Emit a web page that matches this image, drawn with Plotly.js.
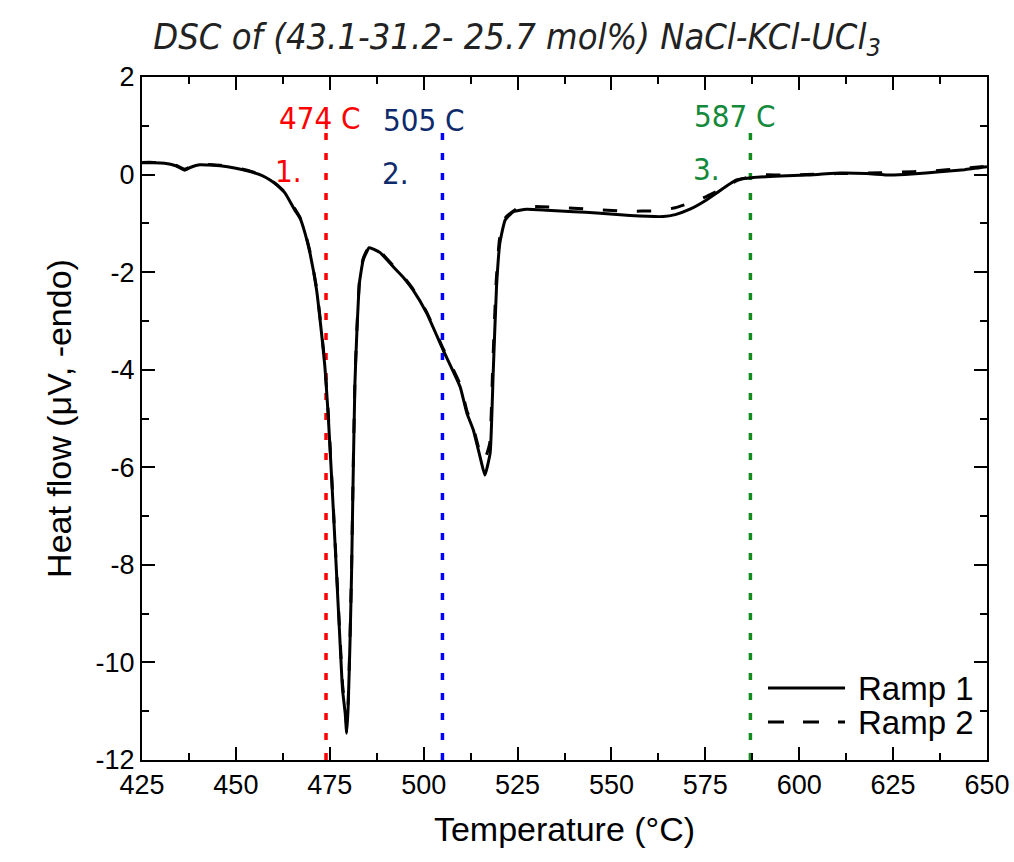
<!DOCTYPE html>
<html>
<head>
<meta charset="utf-8">
<script src="https://cdn.plot.ly/plotly-3.0.1.min.js"></script>
<style>html,body{margin:0;padding:0;background:#fff;}#chart{width:1014px;height:862px;}</style>
</head>
<body>
<div id="chart"></div>
<script>
// Ramp 1 (solid)
const ramp1T = [425, 428, 431, 434, 436.4, 438, 440.4, 445.8, 450, 453.8, 457, 459.1, 461, 463.1, 465.7, 467.1, 468.4, 469.7, 471.5, 472.8, 473.7, 474.6, 475.9, 476.8, 477.7, 478.4, 479.1, 479.5, 479.9, 480.4, 480.8, 481.2, 481.7, 482.2, 482.9, 483.9, 485.5, 488.4, 491.9, 494.5, 497.2, 500.8, 505.2, 509.7, 511.5, 513.2, 515, 516.3, 517.7, 518.5, 519.4, 520.3, 521.7, 523.9, 527.4, 532.8, 540, 546.1, 555, 563.8, 567, 570.9, 575.3, 578, 580, 583.3, 587.8, 595, 602, 610.9, 618, 624.2, 630, 637.5, 644, 650];
const ramp1HF = [0.24, 0.24, 0.23, 0.18, 0.09, 0.15, 0.2, 0.18, 0.13, 0.06, -0.02, -0.11, -0.22, -0.38, -0.73, -0.9, -1.2, -1.6, -2.37, -3.25, -3.94, -4.96, -6.81, -8.17, -9.54, -10.56, -11.04, -11.45, -10.9, -9.54, -8.17, -6.3, -4.27, -3.25, -2.22, -1.75, -1.5, -1.6, -1.89, -2.1, -2.37, -2.84, -3.6, -4.35, -4.89, -5.23, -5.78, -6.16, -5.71, -4.1, -2.3, -1.4, -0.93, -0.76, -0.71, -0.73, -0.76, -0.79, -0.84, -0.86, -0.82, -0.71, -0.52, -0.38, -0.27, -0.11, -0.06, -0.03, -0.01, 0.03, 0.02, -0.01, 0.01, 0.06, 0.1, 0.16];
// Ramp 2 (dashed)
const ramp2T = [425, 428, 431, 434, 436.4, 438, 440.4, 445.8, 450, 453.8, 457, 459.1, 461, 463.1, 465.7, 467.1, 468.4, 469.7, 471.5, 472.8, 473.7, 474.6, 475.9, 476.8, 477.7, 478.4, 479.1, 479.5, 479.9, 480.4, 480.8, 481.2, 481.7, 482.2, 482.9, 483.9, 485.5, 488.4, 491.9, 494.5, 497.2, 500.8, 505.2, 509.7, 511.5, 513.2, 515, 516.2, 517.6, 518.4, 519.3, 520.2, 521.6, 525.6, 535.4, 544.3, 553.6, 562.5, 567, 571.4, 575.5, 579.8, 583.5, 589.1, 598, 610, 618, 626, 634.8, 643.7, 650];
const ramp2HF = [0.25, 0.25, 0.23, 0.19, 0.11, 0.16, 0.21, 0.19, 0.14, 0.07, -0.01, -0.1, -0.21, -0.37, -0.7, -0.88, -1.18, -1.57, -2.33, -3.2, -3.9, -4.9, -6.75, -8.1, -9.45, -10.45, -10.95, -11.3, -10.8, -9.45, -8.1, -6.2, -4.2, -3.2, -2.18, -1.72, -1.48, -1.58, -1.87, -2.08, -2.35, -2.82, -3.57, -4.3, -4.84, -5.18, -5.7, -5.85, -5.5, -3.9, -2.2, -1.32, -0.9, -0.66, -0.67, -0.71, -0.75, -0.74, -0.68, -0.57, -0.44, -0.28, -0.12, -0.01, -0.01, 0.02, 0.03, 0.05, 0.07, 0.13, 0.17];
// Transition temperatures (vertical dotted markers)
const transT = [474, 505, 587];
const transLabels = ['474 C', '505 C', '587 C'];
const transNums = ['1.', '2.', '3.'];
const markerSpan = [-12, 1.0];
// Series names (legend)
const seriesNames = ['Ramp 1', 'Ramp 2'];
// tick values
const xTicks = [425, 450, 475, 500, 525, 550, 575, 600, 625, 650];
const yTicks = [2, 0, -2, -4, -6, -8, -10, -12];

const lineColors = ['#ff0000', '#0000ff', '#128c1e'];
const textColors = ['#ff0000', '#0d2a6b', '#13893b'];
const labelPos = [[472.4, 1.16], [500.1, 1.12], [582.9, 1.2]];
const numPos = [[463.9, 0.07], [492.6, 0.03], [575.2, 0.11]];

const narrow = 'Liberation Sans Narrow, DejaVu Sans Condensed, Roboto, sans-serif';
const sans = 'Arial, Liberation Sans, sans-serif';
const seriesDash = ['solid', '16px,19px'];

const traces = [];
transT.forEach((t, i) => {
  traces.push({
    x: [t, t], y: markerSpan, mode: 'lines', showlegend: false, hoverinfo: 'skip',
    line: {color: lineColors[i], width: 3.5, dash: '7px,13px'}
  });
});
traces.push({x: ramp1T, y: ramp1HF, name: seriesNames[0], mode: 'lines', showlegend: false,
  line: {color: '#000', width: 3, dash: seriesDash[0], shape: 'spline', smoothing: 0.4}});
traces.push({x: ramp2T, y: ramp2HF, name: seriesNames[1], mode: 'lines', showlegend: false,
  line: {color: '#000', width: 3, dash: '14px,20px', shape: 'spline', smoothing: 0.4}});

const annotations = [];
transT.forEach((t, i) => {
  annotations.push({x: labelPos[i][0], y: labelPos[i][1], xref: 'x', yref: 'y', text: transLabels[i], showarrow: false,
    font: {family: narrow, size: 31, color: textColors[i]}, xanchor: 'center', yanchor: 'middle'});
  annotations.push({x: numPos[i][0], y: numPos[i][1], xref: 'x', yref: 'y', text: transNums[i], showarrow: false,
    font: {family: narrow, size: 31, color: textColors[i]}, xanchor: 'center', yanchor: 'middle'});
});

// Legend (drawn inside plot, bottom right)
const legendRowsY = [0.1054, 0.0556];
const shapes = [];
seriesNames.forEach((nm, i) => {
  shapes.push({type: 'line', xref: 'paper', yref: 'paper', x0: 0.7408, x1: 0.832, y0: legendRowsY[i], y1: legendRowsY[i],
    line: {color: '#000', width: 3, dash: seriesDash[i]}});
  annotations.push({xref: 'paper', yref: 'paper', x: 0.845, y: legendRowsY[i], text: nm, showarrow: false,
    xanchor: 'left', yanchor: 'middle', font: {family: sans, size: 33, color: '#000'}});
});

const axisCommon = {
  showgrid: false, zeroline: false, showline: true, linecolor: '#000', linewidth: 2,
  mirror: 'ticks', ticks: 'inside', ticklen: 13, tickwidth: 2, tickcolor: '#000',
  tickfont: {family: sans, size: 27, color: '#000'}
};

const layout = {
  width: 1014, height: 862,
  paper_bgcolor: '#fff', plot_bgcolor: '#fff',
  font: {family: sans},
  margin: {l: 142, r: 27, t: 77, b: 102},
  title: {text: 'DSC of (43.1-31.2- 25.7 mol%) NaCl-KCl-UCl<sub>3</sub>', xref: 'container', yref: 'container',
    x: 0.51, xanchor: 'center', y: 0.958, yanchor: 'middle',
    font: {family: narrow, size: 36, style: 'italic', color: '#222'}},
  xaxis: Object.assign({}, axisCommon, {
    range: [425, 650], tickvals: xTicks, ticktext: xTicks.map(String),
    minor: {dtick: 12.5, tick0: 425, ticks: 'inside', ticklen: 7, tickwidth: 2, tickcolor: '#000'},
    title: {text: 'Temperature (°C)', font: {family: sans, size: 34, color: '#000'}, standoff: 18}
  }),
  yaxis: Object.assign({}, axisCommon, {
    range: [-12, 2], tickvals: yTicks, ticktext: yTicks.map(String),
    minor: {dtick: 1, tick0: 0, ticks: 'inside', ticklen: 7, tickwidth: 2, tickcolor: '#000'},
    title: {text: 'Heat flow (μV, -endo)', font: {family: sans, size: 34, color: '#000'}, standoff: 14}
  }),
  shapes: shapes,
  annotations: annotations,
  showlegend: false
};

Plotly.newPlot('chart', traces, layout, {displayModeBar: false, staticPlot: true});
</script>
</body>
</html>
